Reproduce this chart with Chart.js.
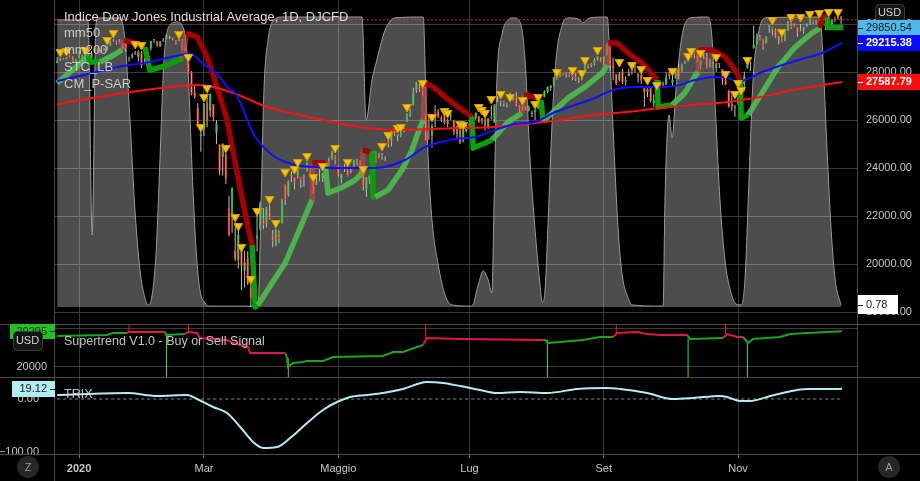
<!DOCTYPE html>
<html>
<head>
<meta charset="utf-8">
<script src="https://cdn.jsdelivr.net/npm/chart.js@4.4.1/dist/chart.umd.min.js"></script>
<style>
  html, body { margin: 0; padding: 0; background: #000; }
  #wrap { width: 920px; height: 481px; }
</style>
</head>
<body>
<div id="wrap"><canvas id="chart" width="920" height="481"></canvas></div>
<script>
// x values are trading-day indexes, 0 = 20 Dec 2019
const monthTicks = [7, 47, 90, 132, 175, 218];
const monthLabels = ['2020', 'Mar', 'Maggio', 'Lug', 'Set', 'Nov'];
const priceTicks = [18000, 20000, 22000, 24000, 26000, 28000, 30000];
const stTicks = [20000, 30000];
const trixTicks = [-100, 0];

// daily candles [open, high, low, close]
const ohlc = [
  // dec 2019
  [28380,28610,28360,28455],[28490,28580,28460,28551],[28570,28580,28500,28515],[28530,28630,28520,28621],
  [28670,28700,28600,28645],[28650,28660,28380,28462],[28420,28550,28380,28538],
  // jan
  [28640,28870,28580,28868],[28630,28720,28420,28634],[28470,28710,28420,28703],[28640,28690,28550,28583],
  [28560,28870,28430,28745],[28850,28990,28820,28956],[29000,29010,28780,28824],[28850,28910,28780,28907],
  [28900,29010,28880,28940],[28940,29090,28910,29030],[29100,29300,29070,29298],[29320,29370,29260,29348],
  [29270,29310,29140,29196],[29260,29370,29180,29186],[29100,29190,28950,29160],[29200,29240,28830,28990],
  [28600,28640,28440,28535],[28600,28780,28560,28723],[28820,28880,28710,28734],[28600,28900,28440,28859],
  [28810,28880,28170,28256],
  // feb
  [28320,28580,28320,28400],[28560,28850,28560,28807],[28980,29290,28900,29291],[29320,29380,29210,29380],
  [29290,29300,29050,29103],[29060,29280,29050,29276],[29350,29420,29250,29276],[29360,29570,29360,29551],
  [29400,29510,29370,29423],[29440,29440,29320,29398],[29280,29330,29150,29232],[29300,29400,29280,29348],
  [29320,29370,28920,29219],[29130,29140,28870,28992],[28400,28400,27920,27961],[28020,28040,27030,27081],
  [27170,27440,26900,26957],[26520,26700,25760,25766],[25320,25520,24680,25409],
  // mar
  [25590,26710,25330,26703],[26760,27100,25700,25917],[26380,27100,26140,27091],[26670,26670,25950,26121],
  [25460,25990,24990,25865],[24990,24990,23700,23851],[24450,25020,23690,25018],[24600,24600,23330,23553],
  [22350,22840,21150,21200],[22030,23190,21300,23186],[20580,21740,20120,20189],[20160,21420,19810,21237],
  [20720,20760,18920,19899],[19700,20560,19020,20087],[20250,20530,19130,19174],[19030,19200,18210,18592],
  [19320,20710,19320,20704],[21050,22020,20520,21201],[21470,22600,21410,22552],[21900,22330,21450,21637],
  [21680,22380,21520,22328],[22200,22480,21840,21917],
  // apr
  [21230,21420,20700,20944],[20820,21470,20740,21413],[21280,21400,20860,21053],[21690,22720,21690,22680],
  [23330,23330,22460,22654],[22860,23480,22810,23434],[23650,23860,23420,23719],[23630,23630,23100,23390],
  [23700,23980,23560,23950],[23640,23640,23170,23505],[23540,23740,23210,23538],[24020,24270,23840,24242],
  [23970,24010,23600,23650],[23400,23580,22940,23019],[23320,23640,23290,23475],[23550,23960,23450,23516],
  [23530,23790,23420,23775],[24010,24210,23900,24134],[24260,24440,24080,24102],[24350,24720,24350,24634],
  [24510,24540,24150,24346],
  // may
  [24120,24120,23650,23724],[23530,23760,23360,23750],[23900,24180,23830,23883],[23980,24030,23650,23664],
  [23830,23990,23770,23875],[24100,24350,24050,24331],[24220,24370,24100,24222],[24290,24320,23760,23764],
  [23820,23880,23060,23248],[23100,23630,22790,23625],[23450,23700,23340,23685],[24260,24680,24260,24597],
  [24570,24690,24200,24207],[24420,24630,24410,24576],[24540,24620,24340,24474],[24460,24490,24300,24465],
  [25140,25180,24850,24995],[25140,25560,24900,25548],[25670,25770,25340,25401],[25320,25420,25110,25383],
  // jun
  [25340,25530,25280,25475],[25570,25750,25490,25742],[25940,26270,25920,26270],[26230,26480,26130,26282],
  [26630,27340,26600,27111],[27230,27580,27120,27572],[27450,27500,27170,27272],[27250,27350,26980,26990],
  [26280,26290,25120,25128],[25600,26200,25180,25606],[25330,25850,24840,25763],[26320,26610,25710,26290],
  [26370,26450,26080,26120],[26010,26180,25920,26080],[26190,26400,25820,25871],[25830,26060,25700,26025],
  [26140,26310,26000,26156],[25990,26000,25360,25445],[25400,25770,25260,25746],[25640,25650,25000,25016],
  [25150,25600,25070,25596],[25520,25900,25480,25813],
  // jul
  [25880,26020,25680,25735],[25940,26200,25810,25827],[26060,26320,26010,26287],[26160,26170,25880,25890],
  [25970,26080,25820,26067],[26060,26080,25560,25706],[25710,26080,25630,26075],[26160,26600,26020,26086],
  [25900,26660,25890,26643],[26880,27000,26740,26870],[26770,26810,26570,26735],[26760,26800,26560,26672],
  [26620,26720,26530,26681],[26830,27150,26780,26840],[26820,27030,26800,27005],[26960,27170,26560,26652],
  [26590,26630,26340,26470],[26520,26600,26400,26585],[26560,26580,26370,26379],[26390,26600,26350,26540],
  [26240,26390,26120,26314],[26320,26450,26000,26428],
  // aug
  [26470,26700,26470,26664],[26640,26830,26600,26828],[26950,27240,26950,27201],[27160,27400,27110,27387],
  [27330,27450,27210,27433],[27480,27800,27410,27791],[27880,28030,27680,27687],[27810,28020,27780,27977],
  [28000,28000,27850,27896],[27840,27960,27760,27931],[27930,27980,27800,27845],[27870,27930,27660,27778],
  [27800,27950,27620,27692],[27630,27780,27540,27739],[27720,27940,27650,27930],[28100,28360,28080,28308],
  [28320,28340,28150,28249],[28290,28370,28200,28332],[28360,28580,28270,28492],[28520,28660,28470,28654],
  [28600,28620,28410,28430],
  // sep
  [28440,28660,28310,28646],[28700,29200,28700,29100],[29060,29060,28050,28293],[28280,28590,27660,28133],
  [27930,27930,27450,27501],[27670,28000,27610,27940],[28030,28130,27500,27535],[27590,27810,27430,27666],
  [27820,28140,27820,27993],[28080,28190,27900,27996],[28050,28290,27980,28032],[27770,27960,27560,27902],
  [27890,27940,27500,27657],[27340,27350,26540,27148],[27170,27320,26960,27289],[27320,27400,26730,26763],
  [26700,27060,26540,26815],[26810,27200,26570,27174],[27400,27650,27400,27584],[27560,27590,27350,27452],
  [27470,27980,27470,27782],
  // oct
  [27940,28040,27700,27817],[27540,27830,27380,27683],[27730,28180,27720,28149],[28200,28350,27700,27773],
  [27990,28350,27990,28303],[28380,28480,28330,28426],[28500,28600,28430,28587],[28630,28950,28600,28838],
  [28790,28800,28560,28680],[28710,28850,28420,28514],[28280,28500,28120,28494],[28540,28880,28530,28607],
  [28670,28800,28150,28196],[28230,28540,28180,28309],[28320,28430,28170,28211],[28170,28390,28000,28364],
  [28370,28380,28170,28336],[28120,28120,27470,27685],[27680,27720,27450,27463],[27250,27260,26520,26520],
  [26550,27030,26380,26659],[26570,26620,26140,26502],
  // nov
  [26690,27120,26610,26925],[27050,27600,27050,27481],[27500,28010,27210,27848],[28150,28530,28150,28390],
  [28360,28440,28040,28323],[28980,29930,28980,29158],[29150,29600,29150,29421],[29450,29550,29320,29398],
  [29360,29400,28930,29080],[29190,29500,29190,29480],[29870,29960,29640,29950],[29860,29890,29520,29784],
  [29740,29810,29420,29438],[29320,29500,29150,29483],[29420,29470,29230,29263],[29340,29680,29280,29592],
  [29730,30120,29710,30046],[30060,30070,29790,29873],[29950,30030,29900,29910],[29880,29880,29470,29639],
  // dec
  [29790,30000,29700,29824],[29760,29890,29590,29884],[29920,30030,29860,29970],[30010,30220,29960,30218],
  [30170,30190,30000,30070],[30010,30190,29990,30174],[30190,30320,30000,30069],[29920,30040,29870,29999],
  [29900,30050,29750,30046],[30130,30190,29850,29861],[30000,30220,29950,30200],[30220,30300,30070,30155],
  [30240,30320,30190,30304],[30300,30330,29990,30179]
];

// mm50 / mm200 [x, value]
const ma50 = [[0,27625],[9.9,27917],[19.2,28208],[29.7,28417],[42.5,28750],[48.0,28208],[50.5,28000],
  [55.4,27250],[57.0,27125],[62.7,25458],[63.4,25292],[69.8,24458],[76.2,24125],[82.6,24042],[89.0,24000],
  [95.4,24000],[101.8,24000],[111.4,24333],[117.8,24875],[127.4,25208],[133.8,25292],[140.2,25583],
  [146.6,25833],[153.0,25917],[159.4,26333],[165.8,26625],[172.2,26917],[177.0,27208],[185.0,27375],
  [192.4,27375],[197.8,27417],[204.2,27667],[210.6,27792],[213.8,27792],[218.0,27583],[220.2,27667],
  [225.7,28000],[232.1,28292],[238.5,28542],[244.9,28792],[251.3,29215.38]];
const ma200 = [[0,26660],[19.2,27083],[39.3,27417],[45.7,27458],[56.3,27125],[67.2,26542],[77.8,26208],
  [88.3,25917],[99.2,25667],[109.8,25583],[129.0,25667],[139.6,25708],[150.5,25833],[161.0,26000],
  [171.6,26208],[182.5,26333],[193.0,26500],[203.6,26625],[214.5,26750],[225.1,26958],[235.6,27250],
  [251.3,27587.79]];

// thick trailing line [x, value, kind]
const trendPts = [
  [0,27540,'LG'],[5.7,28170,'LG'],[9.9,28670,'DG'],[10.5,28420,'DG'],[13.7,28420,'LG'],[17.6,28670,'LG'],
  [20.8,28920,'TR'],[21.4,29330,'DR'],[24.9,29210,'DR'],[28.1,29040,'DG'],[29.7,28080,'DG'],[34.5,28250,'DG'],
  [40.3,28580,'TR'],[41.3,29580,'DR'],[42.5,29580,'DR'],[44.8,29460,'DR'],[48.0,28630,'DR'],[51.2,27380,'DR'],
  [54.4,26000,'DR'],[57.9,23630,'DR'],[61.1,21540,'DR'],[62.4,20790,'DG'],[63.4,18210,'DG'],[64.3,18290,'LG'],
  [68.8,19210,'LG'],[73.0,20040,'LG'],[77.1,21290,'LG'],[81.6,22670,'TR'],[81.7,24210,'DR'],[85.8,24210,'LG'],
  [86.7,22960,'LG'],[91.5,23210,'LG'],[95.4,23500,'LG'],[97.6,23790,'TR'],[97.9,24750,'DR'],[100.8,24630,'DG'],
  [101.1,22790,'DG'],[101.8,22790,'LG'],[105.9,23080,'LG'],[110.4,23920,'LG'],[113.6,24750,'LG'],
  [115.5,25460,'LG'],[117.2,26000,'TR'],[117.8,27540,'DR'],[120.4,27380,'DR'],[124.2,26960,'DR'],
  [128.4,26540,'DR'],[132.8,26130,'DG'],[133.2,24830,'DG'],[139.2,25170,'LG'],[144.4,25920,'LG'],
  [148.8,26290,'TR'],[149.5,27040,'DR'],[153.0,26960,'DR'],[154.9,26830,'DG'],[155.6,25920,'LG'],
  [159.4,26420,'LG'],[163.6,26920,'LG'],[169.0,27380,'LG'],[174.5,27960,'LG'],[176.1,28290,'TR'],
  [176.4,29210,'DR'],[179.3,29210,'DR'],[182.8,28790,'DR'],[187.3,28380,'DR'],[189.8,28000,'DR'],
  [192.1,27670,'DG'],[192.4,26540,'DG'],[196.9,26630,'LG'],[201.0,27130,'LG'],[204.2,27830,'LG'],
  [205.2,28000,'TR'],[205.5,28920,'DR'],[209.7,28920,'DR'],[213.8,28630,'DR'],[217.1,28080,'DR'],
  [218.7,27670,'DG'],[219.0,26080,'DG'],[221.2,26210,'LG'],[225.7,27130,'LG'],[230.8,28210,'LG'],
  [236.3,29040,'LG'],[241.7,29630,'LG'],[244.3,29830,'DR'],[244.9,30290,'DR'],[246.5,30290,'DG'],
  [246.8,29850,'DG'],[251.6,29850.54,'DG']
];

// STC_LB oscillator 0..100 [x, value]
const stc = [[0,99],[9.2,99],[9.9,98.3],[11.2,24.8],[12.4,97.2],[13.1,99.7],[20.1,99.7],[21.7,92.1],
  [23.3,64.5],[24.9,33.4],[26.5,12.8],[28.1,3.1],[29.1,0.7],[30.4,4.1],[31.7,19.3],[32.9,50.7],[34.2,85.2],
  [36.1,97.2],[38.4,98.3],[40.6,95.5],[41.9,81.7],[43.2,47.2],[44.5,19.3],[45.7,5.9],[47.3,1.4],[48.9,0.3],
  [64.3,0.3],[65.3,36.9],[66.2,74.8],[67.5,92.1],[69.4,99],[72.0,100],[97.6,100],[98.9,64.5],[100.8,78.3],
  [101.8,82.8],[105.0,95.5],[108.2,99.7],[117.2,100],[118.1,71.4],[118.8,50.7],[120.0,30],[122.0,14.5],
  [124.2,4.1],[126.4,0.7],[132.8,0.3],[134.8,7.6],[136.4,12.4],[138.0,9.3],[139.2,4.8],[139.9,36.9],
  [140.8,78.3],[142.4,93.8],[144.4,99],[146.0,99.7],[148.2,98.3],[149.8,85.2],[151.4,50.7],[153.0,26.6],
  [154.6,7.6],[155.3,1.7],[156.2,5.9],[157.2,30],[158.5,64.5],[159.7,85.2],[161.7,97.2],[163.6,99.7],
  [167.5,99],[168.1,97.9],[170.6,99.7],[176.1,100],[177.0,85.2],[178.3,54.1],[179.6,26.6],[180.9,11],
  [182.8,3.1],[184.1,0.7],[194.0,0.3],[194.6,36.9],[195.9,66.2],[196.9,58.3],[198.1,74.8],[200.1,93.8],
  [202.6,99.7],[208.4,100],[209.7,92.1],[210.9,64.5],[212.2,36.9],[213.8,16.2],[215.5,5.9],[217.4,1],
  [219.0,0.7],[220.2,9.3],[221.5,43.8],[222.8,78.3],[224.4,93.8],[226.7,99.7],[244.3,100],[245.2,85.2],
  [246.5,54.1],[247.8,26.6],[249.1,9.3],[250.7,1.7],[251,0.78]];

// CM_P-SAR dots [x, value]
const psar = [[1,28833],[3,28875],[9,28917],[16,29333],[18,29625],[25,29167],[27,29125],[39,29583],[42,28625],
  [46,25708],[47,26958],[48,27333],[54,24833],[57,21958],[58,21583],[59,20708],[62,19375],[64,22208],
  [68,22708],[70,21708],[73,23833],[76,23958],[77,24250],[80,24500],[82,23625],[85,24083],[89,24833],
  [93,24250],[98,23958],[104,24917],[106,25375],[109,25667],[110,25708],[112,26542],[117,27542],[120,26125],
  [124,26375],[125,26292],[129,25833],[130,25792],[135,26542],[136,26417],[137,26292],[139,26875],
  [142,27083],[145,26958],[149,26833],[153,26667],[154,26958],[160,28000],[165,28083],[168,27958],
  [169,28500],[173,28917],[180,28417],[184,28292],[187,28125],[189,27667],[192,27458],[197,28042],
  [202,28667],[203,28875],[206,28792],[211,28625],[214,27917],[217,27083],[218,27542],[219,27250],
  [221,28500],[229,30167],[232,29667],[235,30292],[238,30292],[241,30417],[244,30458],[247,30500],[250,30500]];

// Supertrend [x, value, dir]
const stPts = [[0,28050,'u'],[16.0,28310,'u'],[17.9,28830,'u'],[22.4,28830,'u'],[22.7,29090,'d'],
  [34.5,29090,'d'],[34.9,28310,'u'],[40.9,28570,'u'],[41.9,29090,'d'],[44.8,28830,'d'],[45.7,27530,'d'],
  [54.4,27010,'d'],[56.3,26230,'d'],[61.1,25190,'d'],[61.8,23640,'d'],[73.0,23640,'d'],[73.6,22340,'u'],
  [73.9,20000,'u'],[75.5,21040,'u'],[78.7,21300,'u'],[80.0,21560,'u'],[85.1,21560,'u'],[88.3,22600,'u'],
  [104.3,22860,'u'],[107.5,23900,'u'],[110.7,23900,'u'],[115.2,25190,'u'],[117.1,25710,'u'],
  [118.4,27530,'d'],[129.0,27270,'d'],[155.6,27010,'d'],[156.2,27010,'u'],[157.2,26230,'u'],
  [161.0,26490,'u'],[168.4,27010,'u'],[173.8,27790,'u'],[178.0,27790,'u'],[179.3,28830,'d'],
  [185.7,29090,'d'],[188.9,28570,'d'],[193.1,28310,'d'],[201.7,28310,'d'],[202.6,27270,'u'],
  [213.2,27530,'u'],[214.5,28570,'d'],[217.7,27790,'d'],[219.6,27790,'d'],[221.2,26230,'u'],
  [222.8,27270,'u'],[231.5,27790,'u'],[234.7,28570,'u'],[240.1,28830,'u'],[251.3,29295,'u']];
const stSells = [[23,29090],[42,29090],[118,27530],[179,28830],[214,28570]];
const stBuys = [[35,28310],[74,22340],[157,27010],[202,27270],[221,26230]];

// TRIX [x, value]
const trix = [[0,7.5],[22.4,11.3],[32.0,5.7],[41.6,7.5],[44.8,0],[49.9,-15.1],[54.4,-26.4],[58.6,-52.8],
  [62.7,-81.1],[65.9,-92.5],[70.4,-90.6],[74.6,-73.6],[80.0,-45.3],[85.1,-20.8],[89.6,-5.7],[93.8,3.8],
  [99.2,7.5],[104.3,11.3],[110.7,18.9],[118.4,32.1],[123.6,30.2],[129.0,24.5],[135.4,17.0],[140.8,11.3],
  [148.2,13.2],[156.9,11.3],[166.5,18.9],[176.1,20.8],[180.2,18.9],[188.9,11.3],[197.2,0],[203.6,1.9],
  [212.2,5.7],[214.5,3.8],[218.7,-3.8],[221.9,-3.8],[227.3,3.8],[233.7,13.2],[240.1,18.9],[246.5,18.9],
  [251.3,19.12]];

const lastClose = 30179;
const lastTrend = 29850.54, lastMa50 = 29215.38, lastMa200 = 27587.79;
const lastStc = 0.78, lastSt = 29295, lastTrix = 19.12;

const X_MIN = -0.7, X_MAX = 256.4;
const ST_MIN = 17400, ST_MAX = 31170;
const FONT = '"Liberation Sans", Arial, sans-serif';

const pts = rows => rows.map(r => ({ x: r[0], y: r[1] }));
const isUp = i => ohlc[i][3] >= ohlc[i][0];
const trendColors = { LG: 'rgba(76,190,76,0.9)', DG: '#0b9e0b', DR: '#a40000', TR: 'rgba(215,70,70,0.55)' };

// fixed axis sizes, no label overhang padding
const fixW = w => s => { s.width = w; s.paddingTop = 0; s.paddingBottom = 0; };

const panes = {
  id: 'panes',
  afterDraw(chart) {
    const { ctx, chartArea: a, scales: s } = chart;
    const W = chart.width, H = chart.height;
    ctx.save();
    ctx.strokeStyle = '#4b4b4b';
    ctx.lineWidth = 1;
    ctx.beginPath();
    for (const y of [s.yMain.bottom, s.ySt.bottom, a.bottom]) {
      const yy = Math.round(y) + 0.5;
      ctx.moveTo(0, yy); ctx.lineTo(W, yy);
    }
    for (const x of [a.left, a.right]) {
      const xx = Math.round(x) - 0.5;
      ctx.moveTo(xx, 0); ctx.lineTo(xx, H);
    }
    ctx.stroke();

    // legends
    ctx.textBaseline = 'middle';
    ctx.textAlign = 'left';
    ctx.fillStyle = '#dcdcdc';
    ctx.font = '13px ' + FONT;
    ctx.fillText('Indice Dow Jones Industrial Average, 1D, DJCFD', 64, 17);
    ctx.fillStyle = 'rgba(215,215,215,0.9)';
    ctx.fillText('mm50', 64, 33);
    ctx.fillText('mm200', 64, 50);
    ctx.fillText('STC_LB', 64, 67);
    ctx.fillText('CM_P-SAR', 64, 84);
    ctx.font = '12.5px ' + FONT;
    ctx.fillText('Supertrend V1.0 - Buy or Sell Signal', 64, 342);
    ctx.fillText('TRIX', 64, 395);

    // currency buttons (under the value tags)
    const btn = (x, y, w, h, text) => {
      ctx.fillStyle = '#141414';
      ctx.strokeStyle = '#3d3d3d';
      ctx.beginPath();
      ctx.roundRect(x + 0.5, y + 0.5, w, h, 4);
      ctx.fill(); ctx.stroke();
      ctx.fillStyle = '#d4d4d4';
      ctx.font = '11px ' + FONT;
      ctx.textAlign = 'center';
      ctx.fillText(text, x + w / 2, y + h / 2 + 0.5);
    };
    btn(875, 4, 29, 17, 'USD');

    const tag = (x, y, w, h, bg, fg, text, tx, align, bold) => {
      ctx.fillStyle = bg;
      ctx.fillRect(x, Math.round(y - h / 2), w, h);
      ctx.fillStyle = fg;
      ctx.font = (bold ? 'bold ' : '') + '11px ' + FONT;
      ctx.textAlign = align;
      ctx.fillText(text, tx, y + 0.5);
      ctx.strokeStyle = fg;
      ctx.beginPath();
      const dx = align === 'left' ? x : x + w - 5;
      ctx.moveTo(dx, Math.round(y) + 0.5); ctx.lineTo(dx + 5, Math.round(y) + 0.5);
      ctx.stroke();
    };
    const R = a.right;
    tag(R, s.yMain.getPixelForValue(lastTrend), 62, 16, '#4fb8e8', '#0d1b2a', lastTrend.toFixed(2), R + 8, 'left');
    tag(R, s.yMain.getPixelForValue(lastMa50), 62, 16, '#0a0aff', '#ffffff', lastMa50.toFixed(2), R + 8, 'left', true);
    tag(R, s.yMain.getPixelForValue(lastMa200), 62, 16, '#ff0a0a', '#ffffff', lastMa200.toFixed(2), R + 8, 'left', true);
    tag(R, s.yStc.getPixelForValue(lastStc), 40, 19, '#ffffff', '#202020', lastStc.toFixed(2), R + 8, 'left');
    tag(10, s.ySt.getPixelForValue(lastSt), a.left - 10, 15, '#1fc41f', '#0a1a0a', String(lastSt), a.left - 8, 'right');
    tag(12, s.yTrix.getPixelForValue(lastTrix), a.left - 12, 16, '#b2ebf2', '#1a1a1a', lastTrix.toFixed(2), a.left - 8, 'right');

    btn(13, 331, 29, 19, 'USD');
    const badge = (x, y, text) => {
      ctx.fillStyle = '#262626';
      ctx.beginPath();
      ctx.arc(x, y, 11, 0, Math.PI * 2);
      ctx.fill();
      ctx.fillStyle = '#9c9c9c';
      ctx.font = '11px ' + FONT;
      ctx.textAlign = 'center';
      ctx.fillText(text, x, y + 0.5);
    };
    badge(28, 467, 'Z');
    badge(889, 467, 'A');
    ctx.restore();
  }
};

const chart = new Chart(document.getElementById('chart'), {
  type: 'line',
  data: {
    datasets: [
      {
        label: 'last', data: [{ x: X_MIN, y: lastClose }, { x: X_MAX, y: lastClose }],
        yAxisID: 'yMain', borderColor: '#ff2a2a', borderWidth: 1, borderDash: [1.5, 2.5], order: 1
      },
      {
        label: 'CM_P-SAR', data: pts(psar), yAxisID: 'yMain', showLine: false,
        pointStyle: 'triangle', rotation: 180, pointRadius: 5,
        pointBackgroundColor: '#f5c400', pointBorderColor: '#d29a00', pointBorderWidth: 1, order: 2
      },
      {
        label: 'mm50', data: pts(ma50), yAxisID: 'yMain', borderColor: '#1010ff', borderWidth: 2,
        cubicInterpolationMode: 'monotone', order: 5
      },
      {
        label: 'mm200', data: pts(ma200), yAxisID: 'yMain', borderColor: '#ff1010', borderWidth: 2,
        cubicInterpolationMode: 'monotone', order: 6
      },
      {
        label: 'trail', data: pts(trendPts), yAxisID: 'yMain', borderWidth: 5.5, borderColor: '#0b9e0b',
        borderJoinStyle: 'round',
        segment: { borderColor: c => trendColors[trendPts[c.p0DataIndex][2]] }, order: 7
      },
      {
        type: 'bar', label: 'body', data: ohlc.map((r, i) => ({ x: i, y: [r[0], r[3]] })), yAxisID: 'yMain',
        grouped: false, barPercentage: 1, maxBarThickness: 3, borderWidth: 1, borderSkipped: false,
        backgroundColor: c => isUp(c.dataIndex) ? '#52cc52' : '#ff9c88',
        borderColor: c => isUp(c.dataIndex) ? '#3fb43f' : '#ff2b2b', order: 8
      },
      {
        type: 'bar', label: 'wick', data: ohlc.map((r, i) => ({ x: i, y: [r[2], r[1]] })), yAxisID: 'yMain',
        grouped: false, barPercentage: 1, maxBarThickness: 1, borderWidth: 0,
        backgroundColor: '#bdbdbd', order: 9
      },
      {
        label: 'STC_LB', data: pts(stc), yAxisID: 'yStc', borderColor: '#9a9a9a', borderWidth: 1,
        backgroundColor: 'rgba(255,255,255,0.3)', fill: 'origin', cubicInterpolationMode: 'monotone', order: 10
      },
      {
        label: 'Supertrend', data: pts(stPts), yAxisID: 'ySt', borderWidth: 2, borderColor: '#1ea51e',
        segment: { borderColor: c => stPts[c.p1DataIndex][2] === 'u' ? '#1ea51e' : '#e0164a' }, order: 3
      },
      {
        type: 'bar', label: 'sell', data: stSells.map(r => ({ x: r[0], y: [r[1], ST_MAX] })), yAxisID: 'ySt',
        grouped: false, barPercentage: 1, maxBarThickness: 1, borderWidth: 0, backgroundColor: '#ff1a1a', order: 4
      },
      {
        type: 'bar', label: 'buy', data: stBuys.map(r => ({ x: r[0], y: [ST_MIN, r[1]] })), yAxisID: 'ySt',
        grouped: false, barPercentage: 1, maxBarThickness: 1, borderWidth: 0, backgroundColor: '#33e033', order: 4
      },
      {
        label: 'TRIX', data: pts(trix), yAxisID: 'yTrix', borderColor: '#b2ebf2', borderWidth: 2,
        cubicInterpolationMode: 'monotone', order: 3
      },
      {
        label: 'zero', data: [{ x: 0, y: 0 }, { x: 251.6, y: 0 }], yAxisID: 'yTrix',
        borderColor: '#8c8c8c', borderWidth: 1, borderDash: [3, 3], order: 4
      }
    ]
  },
  options: {
    responsive: false,
    animation: false,
    devicePixelRatio: 1,
    events: [],
    layout: { padding: 0, autoPadding: false },
    elements: { point: { radius: 0 }, line: { tension: 0 } },
    plugins: { legend: { display: false }, tooltip: { enabled: false } },
    scales: {
      x: {
        type: 'linear', position: 'bottom', min: X_MIN, max: X_MAX, offset: false,
        afterFit: s => { s.height = 27; s.paddingLeft = 0; s.paddingRight = 0; },
        afterBuildTicks: s => { s.ticks = monthTicks.map(v => ({ value: v })); },
        grid: { color: '#363636', tickColor: '#777', tickLength: 4, offset: false },
        border: { display: false },
        ticks: {
          autoSkip: false, maxRotation: 0, padding: 4, color: '#c8c8c8',
          font: c => ({ size: 11, weight: c.index === 0 ? 'bold' : 'normal', family: FONT }),
          callback: v => monthLabels[monthTicks.indexOf(v)] || ''
        }
      },
      yMain: {
        type: 'linear', position: 'right', stack: 'R', stackWeight: 324, weight: 1,
        min: 17500, max: 31000, afterFit: fixW(62),
        afterBuildTicks: s => { s.ticks = priceTicks.map(v => ({ value: v })); },
        grid: { color: '#3a3a3a', drawTicks: false }, border: { display: false },
        ticks: { padding: 8, color: '#c3c3c3', font: { size: 11, family: FONT }, callback: v => v.toFixed(2) }
      },
      yStR: { type: 'linear', position: 'right', stack: 'R', stackWeight: 53, weight: 2, display: false, afterFit: fixW(62) },
      yTrixR: { type: 'linear', position: 'right', stack: 'R', stackWeight: 77, weight: 3, display: false, afterFit: fixW(62) },
      yStc: { type: 'linear', position: 'right', weight: 10, display: false, min: -50.69, max: 105.86, afterFit: fixW(0) },
      yMainL: { type: 'linear', position: 'left', stack: 'L', stackWeight: 324, weight: 3, display: false, afterFit: fixW(55) },
      ySt: {
        type: 'linear', position: 'left', stack: 'L', stackWeight: 53, weight: 2,
        min: ST_MIN, max: ST_MAX, afterFit: fixW(55),
        afterBuildTicks: s => { s.ticks = stTicks.map(v => ({ value: v })); },
        grid: { color: '#3a3a3a', drawTicks: false }, border: { display: false },
        ticks: { padding: 8, color: '#c3c3c3', font: { size: 11, family: FONT }, callback: v => String(v) }
      },
      yTrix: {
        type: 'linear', position: 'left', stack: 'L', stackWeight: 77, weight: 1,
        min: -103.8, max: 41.5, afterFit: fixW(55),
        afterBuildTicks: s => { s.ticks = trixTicks.map(v => ({ value: v })); },
        grid: { display: false }, border: { display: false },
        ticks: { padding: 8, color: '#c3c3c3', font: { size: 11, family: FONT }, callback: v => (v < 0 ? '\u2212' : '') + Math.abs(v).toFixed(2) }
      }
    }
  },
  plugins: [panes]
});
</script>
</body>
</html>
